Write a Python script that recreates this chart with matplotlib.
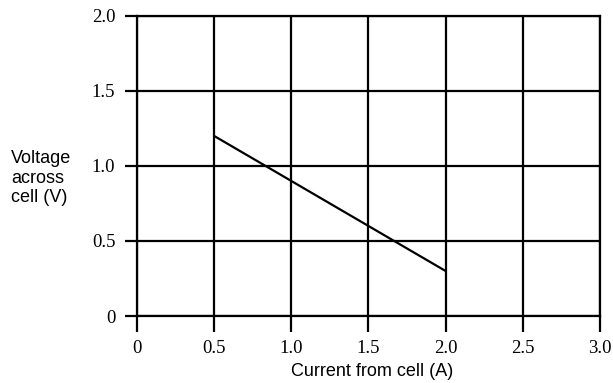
import matplotlib.pyplot as plt

# Data
current = [0.5, 2.0]
voltage = [1.2, 0.3]
x_ticks = [0, 0.5, 1.0, 1.5, 2.0, 2.5, 3.0]
x_labels = ['0', '0.5', '1.0', '1.5', '2.0', '2.5', '3.0']
y_ticks = [0, 0.5, 1.0, 1.5, 2.0]
y_labels = ['0', '0.5', '1.0', '1.5', '2.0']

fig = plt.figure(figsize=(6.13, 3.83), dpi=100)
ax = fig.add_axes([0.2227, 0.1749, 0.7561, 0.7846])

ax.plot(current, voltage, color='black', linewidth=1.6, solid_capstyle='butt')

ax.set_xlim(0, 3.0)
ax.set_ylim(0, 2.0)
ax.set_xticks(x_ticks)
ax.set_xticklabels(x_labels, family='Liberation Serif', fontsize=13.5)
ax.set_yticks(y_ticks)
ax.set_yticklabels(y_labels, family='Liberation Serif', fontsize=13.5)

# Grid drawn in black like the printed graph paper
ax.grid(True, color='black', linewidth=1.6)
for s in ax.spines.values():
    s.set_linewidth(1.6)
    s.set_color('black')
ax.tick_params(axis='x', length=11.3, width=1.6, pad=6)
ax.tick_params(axis='y', length=8.3, width=1.6, pad=7)

fig.text(0.607, 0.029, 'Current from cell (A)', family='Liberation Sans',
         fontsize=13, ha='center', va='center')
fig.text(0.018, 0.535, 'Voltage\nacross\ncell (V)', family='Liberation Sans',
         fontsize=13, ha='left', va='center', linespacing=1.17)

plt.savefig('out.png', dpi=100)
